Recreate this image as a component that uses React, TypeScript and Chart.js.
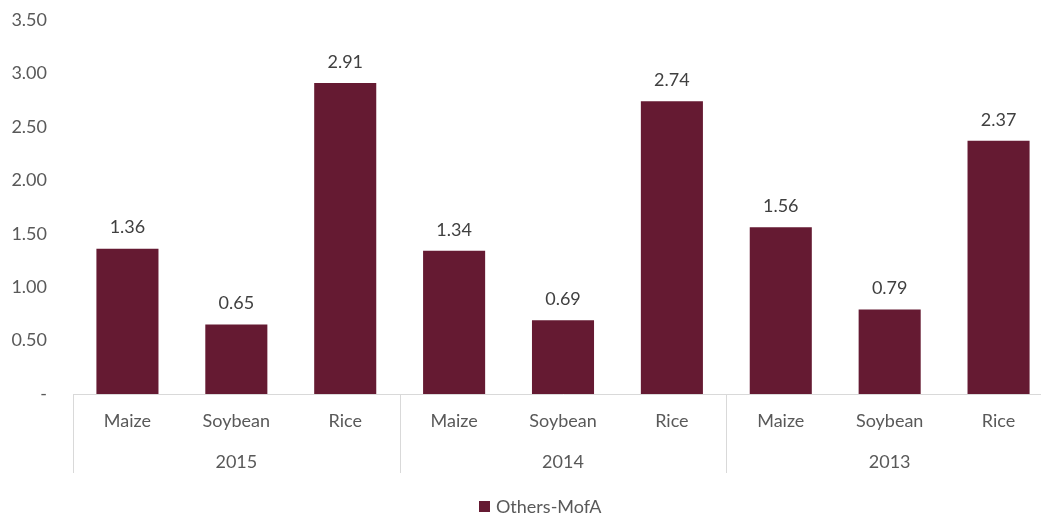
import { useEffect, useRef } from "react";
import { Chart, registerables } from "chart.js";

Chart.register(...registerables);

// Crop categories, grouped by year
const years = ["2015", "2014", "2013"];
const crops = ["Maize", "Soybean", "Rice"];
const categories = years.flatMap(() => crops);
const seriesName = "Others-MofA";
const values = [1.36, 0.65, 2.91, 1.34, 0.69, 2.74, 1.56, 0.79, 2.37];
const yTickValues = [0, 0.5, 1, 1.5, 2, 2.5, 3, 3.5];

const BAR_COLOR = "#651A32";
const TEXT_COLOR = "#595959";
const LABEL_COLOR = "#404040";
const LINE_COLOR = "#D9D9D9";
const FONT = "Lato";

const groupPlugin = {
  id: "groupLabels",
  afterDatasetsDraw(chart: any) {
    const ctx = chart.ctx;
    const meta = chart.getDatasetMeta(0);
    ctx.save();
    ctx.font = `18px ${FONT}`;
    ctx.fillStyle = LABEL_COLOR;
    ctx.textAlign = "center";
    ctx.textBaseline = "middle";
    meta.data.forEach((bar: any, i: number) => {
      ctx.fillText(values[i].toFixed(2), bar.x, bar.y - 21);
    });
    ctx.restore();
  },
  afterDraw(chart: any) {
    const ctx = chart.ctx;
    const xs = chart.scales.x;
    const area = chart.chartArea;
    const step = xs.getPixelForValue(1) - xs.getPixelForValue(0);
    ctx.save();
    ctx.strokeStyle = LINE_COLOR;
    ctx.lineWidth = 1;
    // vertical group separators
    for (let g = 0; g <= years.length; g++) {
      const px = Math.round(xs.getPixelForValue(g * crops.length) - step / 2) + 0.5;
      ctx.beginPath();
      ctx.moveTo(px, area.bottom);
      ctx.lineTo(px, area.bottom + 79);
      ctx.stroke();
    }
    // year labels
    ctx.font = `18px ${FONT}`;
    ctx.fillStyle = TEXT_COLOR;
    ctx.textAlign = "center";
    ctx.textBaseline = "middle";
    years.forEach((yr, g) => {
      const mid = xs.getPixelForValue(g * crops.length + (crops.length - 1) / 2);
      ctx.fillText(yr, mid, area.bottom + 68);
    });
    // legend
    const lx = 479;
    const ly = 507;
    ctx.fillStyle = BAR_COLOR;
    ctx.fillRect(lx, ly - 6, 11, 11);
    ctx.fillStyle = TEXT_COLOR;
    ctx.textAlign = "left";
    ctx.fillText(seriesName, lx + 17, ly);
    ctx.restore();
  },
};

export default function App() {
  const canvasRef = useRef<HTMLCanvasElement | null>(null);

  useEffect(() => {
    if (!canvasRef.current) return;
    const chart = new Chart(canvasRef.current, {
      type: "bar",
      data: {
        labels: categories,
        datasets: [
          {
            label: seriesName,
            data: values,
            backgroundColor: BAR_COLOR,
            barPercentage: 0.57,
            categoryPercentage: 1,
          },
        ],
      },
      options: {
        responsive: false,
        animation: false,
        devicePixelRatio: 1,
        layout: { padding: { top: 20, left: 0, right: 0, bottom: 0 } },
        plugins: {
          legend: { display: false },
          tooltip: { enabled: false },
        },
        scales: {
          x: {
            offset: true,
            grid: { display: false, drawTicks: false },
            border: { display: true, color: LINE_COLOR, width: 1 },
            ticks: {
              color: TEXT_COLOR,
              font: { family: FONT, size: 18 },
              padding: 16,
              maxRotation: 0,
              autoSkip: false,
            },
            afterFit(scale: any) {
              scale.height = 122;
            },
          },
          y: {
            min: 0,
            max: 3.5,
            afterBuildTicks(scale: any) {
              scale.ticks = yTickValues.map((v) => ({ value: v }));
            },
            grid: { display: false, drawTicks: false },
            border: { display: false },
            ticks: {
              color: TEXT_COLOR,
              font: { family: FONT, size: 18 },
              padding: 26,
              callback: (v: any) => (Number(v) === 0 ? "-" : Number(v).toFixed(2)),
            },
            afterFit(scale: any) {
              scale.width = 73;
              scale.paddingTop = 10;
              scale.paddingBottom = 10;
            },
          },
        },
      },
      plugins: [groupPlugin],
    });
    return () => chart.destroy();
  }, []);

  return (
    <div
      style={{
        position: "absolute",
        left: 0,
        top: 0,
        width: 1041,
        height: 516,
        overflow: "hidden",
        background: "#ffffff",
      }}
    >
      <canvas ref={canvasRef} width={1053} height={516} style={{ display: "block" }} />
    </div>
  );
}
